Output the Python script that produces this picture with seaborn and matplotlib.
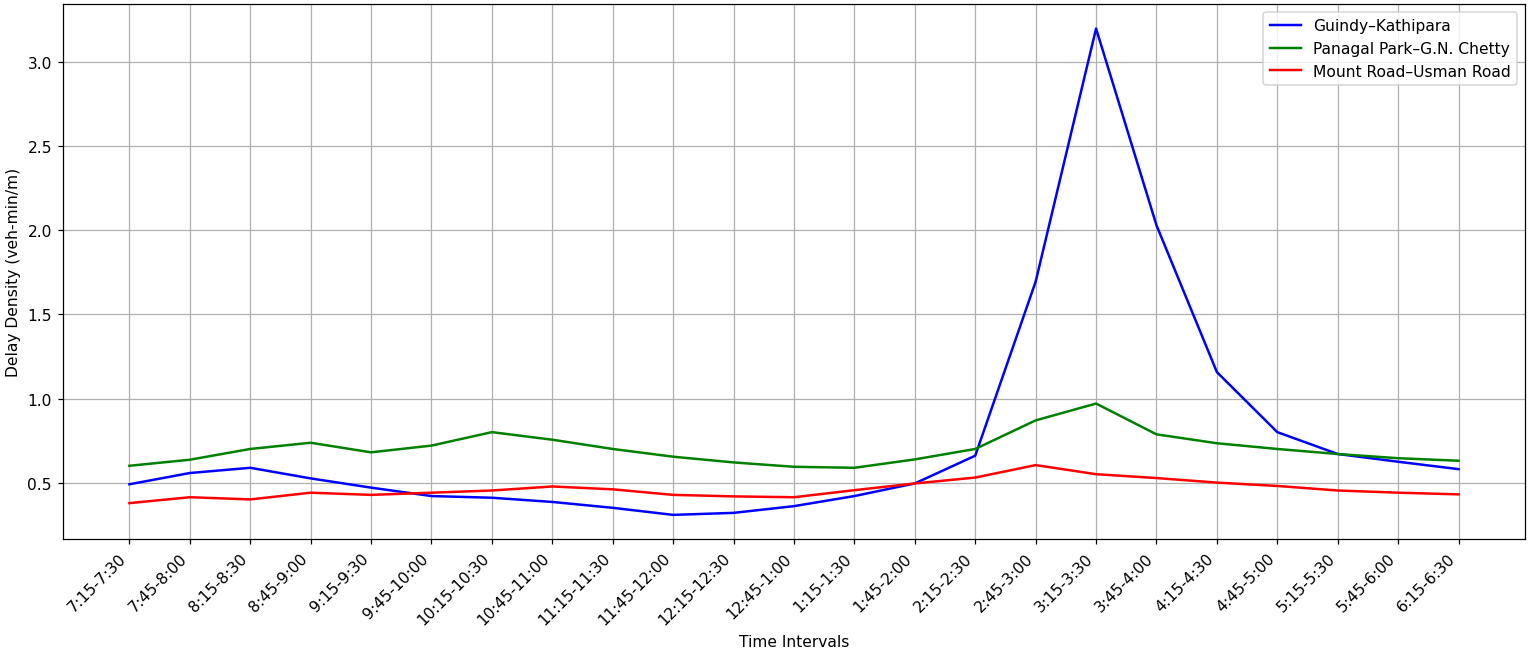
import pandas as pd
import matplotlib
matplotlib.use("Agg")
import matplotlib.pyplot as plt
import seaborn as sns

intervals = ["7:15-7:30", "7:45-8:00", "8:15-8:30", "8:45-9:00", "9:15-9:30",
             "9:45-10:00", "10:15-10:30", "10:45-11:00", "11:15-11:30", "11:45-12:00",
             "12:15-12:30", "12:45-1:00", "1:15-1:30", "1:45-2:00", "2:15-2:30",
             "2:45-3:00", "3:15-3:30", "3:45-4:00", "4:15-4:30", "4:45-5:00",
             "5:15-5:30", "5:45-6:00", "6:15-6:30"]

guindy = [0.49, 0.557, 0.588, 0.525, 0.47, 0.42, 0.41, 0.385, 0.35, 0.308,
          0.32, 0.36, 0.42, 0.495, 0.66, 1.695, 3.20, 2.03, 1.157, 0.80,
          0.67, 0.624, 0.58]
panagal = [0.60, 0.636, 0.70, 0.737, 0.68, 0.72, 0.80, 0.755, 0.70, 0.654,
           0.62, 0.594, 0.588, 0.638, 0.70, 0.87, 0.97, 0.787, 0.734, 0.70,
           0.67, 0.645, 0.63]
mount = [0.378, 0.413, 0.40, 0.44, 0.427, 0.44, 0.453, 0.477, 0.46, 0.427,
         0.418, 0.413, 0.455, 0.495, 0.53, 0.604, 0.55, 0.527, 0.50, 0.48,
         0.453, 0.44, 0.43]

routes = ["Guindy\u2013Kathipara", "Panagal Park\u2013G.N. Chetty", "Mount Road\u2013Usman Road"]

df = pd.concat([
    pd.DataFrame({"interval": intervals, "density": guindy, "route": routes[0]}),
    pd.DataFrame({"interval": intervals, "density": panagal, "route": routes[1]}),
    pd.DataFrame({"interval": intervals, "density": mount, "route": routes[2]}),
])

# drawn a bit larger then saved at higher dpi, like the original export
fig, ax = plt.subplots(figsize=(15.35 / 1.12, 6.54 / 1.12), dpi=112)
sns.lineplot(data=df, x="interval", y="density", hue="route", sort=False,
             palette=["blue", "green", "red"], linewidth=1.6, ax=ax)

ax.grid(True)
ax.set_xlabel("Time Intervals")
ax.set_ylabel("Delay Density (veh-min/m)")
plt.xticks(rotation=45, ha="right")
sns.move_legend(ax, "upper right", title=None)

plt.subplots_adjust(left=0.041, right=0.9935, top=0.992, bottom=0.174)
plt.savefig("out.png", dpi=112)
